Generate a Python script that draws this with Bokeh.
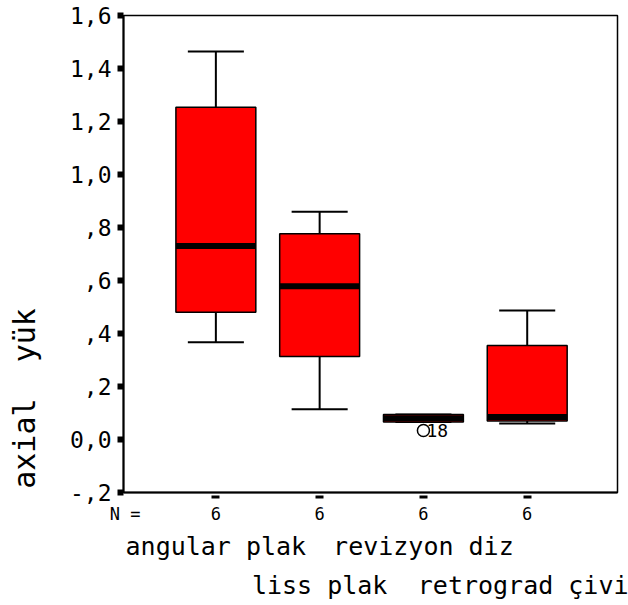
import math
import numpy as np
from bokeh.plotting import figure
from bokeh.models import FixedTicker, Label, Range1d, LinearAxis
from bokeh.embed import file_html
from bokeh.resources import INLINE

# ---- data ----
groups = ["angular plak", "liss plak", "revizyon diz", "retrograd çivi"]
pos = [1, 2, 3, 4]
n_counts = ["6", "6", "6", "6"]
whisker_hi = [1.464, 0.859, 0.094, 0.487]
q3 = [1.254, 0.776, 0.094, 0.355]
median = [0.730, 0.578, 0.080, 0.085]
q1 = [0.480, 0.313, 0.066, 0.070]
whisker_lo = [0.367, 0.114, 0.066, 0.060]
outlier_pos = [3]
outlier_val = [0.034]
outlier_case = ["18"]
y_ticks = [-0.2, 0.0, 0.2, 0.4, 0.6, 0.8, 1.0, 1.2, 1.4, 1.6]
y_tick_labels = ["-,2", "0,0", ",2", ",4", ",6", ",8", "1,0", "1,2", "1,4", "1,6"]
y_title = "axial  yük"
n_label = "N ="

FONT = "DejaVu Sans Mono"
BOX_W = 0.77
CAP_W = 0.54
N_LABEL_X = 0.125

p = figure(width=628, height=605, output_backend="svg", toolbar_location=None,
           x_range=Range1d(0.11, 4.87), y_range=Range1d(-0.2, 1.6),
           min_border_left=123, min_border_right=11, min_border_top=15,
           min_border_bottom=113, tools="")
p.background_fill_color = "white"
p.border_fill_color = "white"
p.outline_line_color = "black"
p.outline_line_width = 1.5
p.xgrid.visible = False
p.ygrid.visible = False

pa = np.array(pos, dtype=float)

# whiskers
p.segment(x0=pa, y0=q3, x1=pa, y1=whisker_hi, line_color="black", line_width=2)
p.segment(x0=pa, y0=q1, x1=pa, y1=whisker_lo, line_color="black", line_width=2)
p.segment(x0=pa - CAP_W / 2, y0=whisker_hi, x1=pa + CAP_W / 2, y1=whisker_hi,
          line_color="black", line_width=2)
p.segment(x0=pa - CAP_W / 2, y0=whisker_lo, x1=pa + CAP_W / 2, y1=whisker_lo,
          line_color="black", line_width=2)
# boxes
p.vbar(x=pa, width=BOX_W, top=q3, bottom=q1, fill_color="#ff0000",
       line_color="black", line_width=1.5)
# medians
p.segment(x0=pa - BOX_W / 2, y0=median, x1=pa + BOX_W / 2, y1=median,
          line_color="black", line_width=6, line_cap="butt")
# outlier
p.scatter(x=outlier_pos, y=outlier_val, marker="circle", size=12,
          fill_color=None, line_color="black", line_width=1.5)
for xo, yo, t in zip(outlier_pos, outlier_val, outlier_case):
    p.add_layout(Label(x=xo, y=yo, text=t, x_offset=3, text_baseline="middle",
                       text_font=FONT, text_font_size="18px",
                       text_color="black"))

# y axis
ya = p.yaxis[0]
ya.ticker = FixedTicker(ticks=y_ticks)
ya.major_label_overrides = {t: l for t, l in zip(y_ticks, y_tick_labels)}
ya.minor_tick_line_color = None
ya.major_tick_in = 0
ya.major_tick_out = 6
ya.major_tick_line_width = 6
ya.major_tick_line_cap = "butt"
ya.major_tick_line_color = "black"
ya.axis_line_width = 2
ya.axis_line_color = "black"
ya.major_label_text_font = FONT
ya.major_label_text_font_size = "23px"
ya.major_label_text_color = "black"
ya.major_label_standoff = 6
# title sits low on the axis in the reference: pad its upper end with spaces
ya.axis_label = y_title.replace("  ", " \u00a0") + "\u00a0" * 16
ya.axis_label_text_font = FONT
ya.axis_label_text_font_size = "30px"
ya.axis_label_text_font_style = "normal"
ya.axis_label_text_color = "black"
ya.axis_label_standoff = 25


def text_axis(ticks, labels, size, standoff, side):
    ax = LinearAxis(ticker=FixedTicker(ticks=ticks),
                    major_label_overrides={t: l for t, l in zip(ticks, labels)},
                    axis_line_color=None, major_tick_line_color=None,
                    minor_tick_line_color=None, major_tick_in=0, major_tick_out=0,
                    major_label_text_font=FONT, major_label_text_font_size=size,
                    major_label_text_color="black", major_label_standoff=standoff)
    p.add_layout(ax, side)
    return ax


# x axis: tick dashes only
xa = p.xaxis[0]
xa.ticker = FixedTicker(ticks=pos)
xa.major_label_overrides = {k: "" for k in pos}
xa.minor_tick_line_color = None
xa.major_tick_in = -3
xa.major_tick_out = 6
xa.major_tick_line_width = 8
xa.major_tick_line_cap = "butt"
xa.major_tick_line_color = "black"
xa.axis_line_width = 2
xa.axis_line_color = "black"
xa.major_label_text_font_size = "1px"
xa.major_label_standoff = 0

# N = row
text_axis([N_LABEL_X] + pos, [n_label] + n_counts, "17px", 5, "below")
# staggered category rows
text_axis(pos[0::2], groups[0::2], "25px", 5, "below")
text_axis(pos[1::2], groups[1::2], "25px", 7, "below")

open("out.html", "w").write(file_html(p, INLINE))
